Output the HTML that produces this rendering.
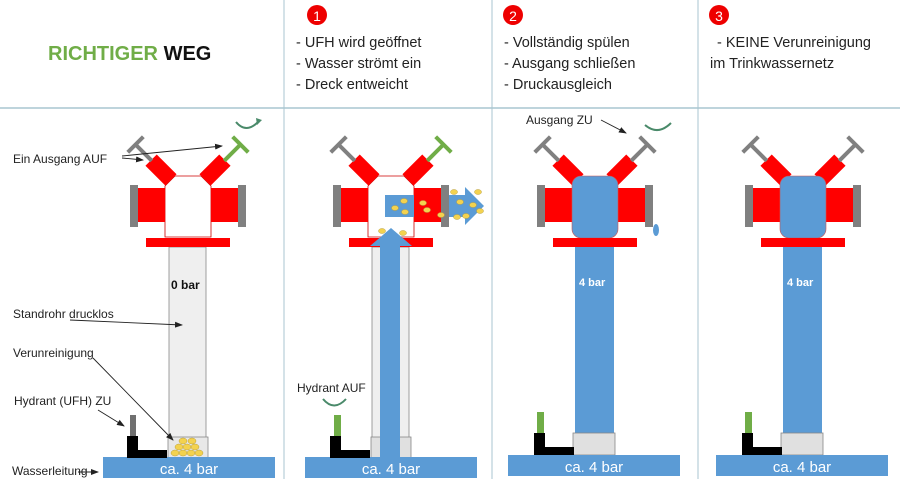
<!DOCTYPE html>
<html><head><meta charset="utf-8"><style>
html,body{margin:0;padding:0;background:#fff}
svg{display:block}
text{font-family:"Liberation Sans",sans-serif}
</style></head><body>
<svg width="900" height="479" viewBox="0 0 900 479" xmlns="http://www.w3.org/2000/svg">
<defs>
<marker id="ar" markerWidth="8" markerHeight="8" refX="7" refY="4" orient="auto" markerUnits="userSpaceOnUse"><path d="M0,1 L8,4 L0,7 z" fill="#222"/></marker>
<g id="sides">
  <rect x="130" y="185" width="8" height="42" fill="#808080"/>
  <rect x="138" y="188" width="27" height="34" fill="#f00"/>
  <rect x="211" y="188" width="27" height="34" fill="#f00"/>
  <rect x="238" y="185" width="8" height="42" fill="#808080"/>
  <rect x="146" y="238" width="84" height="9" fill="#f00"/>
</g>
<g id="outL"><rect x="-8" y="-14" width="16" height="28" fill="#f00"/><rect x="-2" y="-35" width="4" height="22" fill="#808080"/><rect x="-11" y="-38" width="22" height="4" fill="#808080"/></g>
<g id="outRg"><rect x="-8" y="-14" width="16" height="28" fill="#f00"/><rect x="-2" y="-35" width="4" height="22" fill="#70ad47"/><rect x="-11" y="-38" width="22" height="4" fill="#70ad47"/></g>
</defs>

<!-- grid lines -->
<line x1="0" y1="108" x2="900" y2="108" stroke="#a9c6d0" stroke-width="1.5"/>
<line x1="284" y1="0" x2="284" y2="479" stroke="#a9c6d0" stroke-width="1"/>
<line x1="492" y1="0" x2="492" y2="479" stroke="#a9c6d0" stroke-width="1"/>
<line x1="698" y1="0" x2="698" y2="479" stroke="#a9c6d0" stroke-width="1"/>

<!-- headers -->
<text x="48" y="60" font-size="20" font-weight="bold" fill="#70ad47">RICHTIGER <tspan fill="#111">WEG</tspan></text>
<circle cx="317" cy="15" r="10" fill="#e00"/><text x="317" y="21" font-size="14" fill="#fff" text-anchor="middle">1</text>
<circle cx="513" cy="15" r="10" fill="#e00"/><text x="513" y="21" font-size="14" fill="#fff" text-anchor="middle">2</text>
<circle cx="719" cy="15" r="10" fill="#e00"/><text x="719" y="21" font-size="14" fill="#fff" text-anchor="middle">3</text>
<g font-size="14.5" fill="#222">
<text x="296" y="47">- UFH wird geöffnet</text>
<text x="296" y="68">- Wasser strömt ein</text>
<text x="296" y="89">- Dreck entweicht</text>
<text x="504" y="47">- Vollständig spülen</text>
<text x="504" y="68">- Ausgang schließen</text>
<text x="504" y="89">- Druckausgleich</text>
<text x="717" y="47">- KEINE Verunreinigung</text>
<text x="710" y="68">im Trinkwassernetz</text>
</g>

<!-- ===== Panel 1 ===== -->
<rect x="169" y="247" width="37" height="192" fill="#efefef" stroke="#888" stroke-width="0.8"/>
<rect x="168" y="437" width="40" height="21" fill="#e8e8e8" stroke="#888" stroke-width="0.8"/>
<g fill="#f3d24f" stroke="#b8a040" stroke-width="0.5">
<ellipse cx="175" cy="453" rx="4" ry="3"/><ellipse cx="183" cy="453" rx="4" ry="3"/><ellipse cx="191" cy="453" rx="4" ry="3"/><ellipse cx="199" cy="453" rx="4" ry="3"/>
<ellipse cx="179" cy="447" rx="4" ry="3"/><ellipse cx="187" cy="447" rx="4" ry="3"/><ellipse cx="195" cy="447" rx="4" ry="3"/>
<ellipse cx="183" cy="441" rx="4" ry="3"/><ellipse cx="192" cy="441" rx="4" ry="3"/>
</g>
<rect x="103" y="457" width="172" height="21" fill="#5b9bd5"/>
<text x="189" y="474" font-size="15" fill="#fff" text-anchor="middle">ca. 4 bar</text>
<rect x="130" y="415" width="6" height="22" fill="#707070"/>
<rect x="127" y="436" width="11" height="22" fill="#000"/>
<rect x="127" y="450" width="40" height="8" fill="#000"/>
<polygon points="165,186 175,176 201,176 211,186 211,237 165,237" fill="#fff" stroke="#c00" stroke-width="0.8"/>
<use href="#sides"/>
<use href="#outL" transform="translate(161,170) rotate(-45)"/>
<use href="#outRg" transform="translate(215,170) rotate(45)"/>
<path d="M236,122 Q246,134 258,122" fill="none" stroke="#4a8a6a" stroke-width="2"/>
<path d="M256,118 L262,120 L257,125z" fill="#4a8a6a"/>
<text x="171" y="289" font-size="12" font-weight="bold" fill="#111">0 bar</text>
<g font-size="12" fill="#222">
<text x="13" y="163">Ein Ausgang AUF</text>
<text x="13" y="318">Standrohr drucklos</text>
<text x="13" y="357">Verunreinigung</text>
<text x="14" y="405">Hydrant (UFH) ZU</text>
<text x="12" y="475">Wasserleitung</text>
</g>
<g stroke="#222" stroke-width="0.9" fill="none" marker-end="url(#ar)">
<line x1="122" y1="158" x2="143" y2="160"/>
<line x1="122" y1="156" x2="222" y2="146"/>
<line x1="70" y1="320" x2="182" y2="325"/>
<line x1="93" y1="358" x2="173" y2="440"/>
<line x1="98" y1="410" x2="124" y2="426"/>
<line x1="78" y1="472" x2="98" y2="472"/>
</g>

<!-- ===== Panel 2 ===== -->
<g transform="translate(203,0)">
<rect x="169" y="247" width="37" height="192" fill="#efefef" stroke="#888" stroke-width="0.8"/>
<rect x="168" y="437" width="40" height="21" fill="#e0e0e0" stroke="#888" stroke-width="0.8"/>
<rect x="102" y="457" width="172" height="21" fill="#5b9bd5"/>
<text x="188" y="474" font-size="15" fill="#fff" text-anchor="middle">ca. 4 bar</text>
<rect x="131" y="415" width="7" height="22" fill="#70ad47"/>
<rect x="127" y="436" width="11" height="22" fill="#000"/>
<rect x="127" y="450" width="40" height="8" fill="#000"/>
<polygon points="165,186 175,176 201,176 211,186 211,237 165,237" fill="#fff" stroke="#c00" stroke-width="0.8"/>
<use href="#sides"/>
<use href="#outL" transform="translate(161,170) rotate(-45)"/>
<use href="#outRg" transform="translate(215,170) rotate(45)"/>
</g>
<rect x="385" y="195" width="60" height="22" fill="#5b9bd5"/>
<rect x="414" y="188" width="27" height="34" fill="#f00"/>
<rect x="441" y="185" width="8" height="42" fill="#808080"/>
<polygon points="449,195 465,195 465,187 484,206 465,225 465,217 449,217" fill="#5b9bd5"/>
<polygon points="380,458 380,246 370,246 391,228 412,246 400,246 400,458" fill="#5b9bd5"/>
<g fill="#f3d24f" stroke="#b8a040" stroke-width="0.5">
<ellipse cx="395" cy="208" rx="3.5" ry="2.5"/><ellipse cx="404" cy="201" rx="3.5" ry="2.5"/><ellipse cx="405" cy="212" rx="3.5" ry="2.5"/>
<ellipse cx="423" cy="203" rx="3.5" ry="2.5"/><ellipse cx="427" cy="210" rx="3.5" ry="2.5"/><ellipse cx="441" cy="215" rx="3.5" ry="2.5"/>
<ellipse cx="454" cy="192" rx="3.5" ry="2.5"/><ellipse cx="460" cy="202" rx="3.5" ry="2.5"/><ellipse cx="478" cy="192" rx="3.5" ry="2.5"/>
<ellipse cx="473" cy="205" rx="3.5" ry="2.5"/><ellipse cx="480" cy="211" rx="3.5" ry="2.5"/><ellipse cx="466" cy="216" rx="3.5" ry="2.5"/>
<ellipse cx="457" cy="217" rx="3.5" ry="2.5"/><ellipse cx="382" cy="231" rx="3.5" ry="2.5"/><ellipse cx="403" cy="233" rx="3.5" ry="2.5"/>
</g>
<text x="297" y="392" font-size="12" fill="#222">Hydrant AUF</text>
<path d="M323,399 Q334,412 346,399" fill="none" stroke="#4a8a6a" stroke-width="2"/>

<!-- ===== Panel 3 ===== -->
<g transform="translate(407,0)">
<use href="#sides"/>
<use href="#outL" transform="translate(161,170) rotate(-45)"/>
<use href="#outL" transform="translate(215,170) rotate(45)"/>
<rect x="165" y="176" width="46" height="62" rx="9" fill="#5b9bd5" stroke="#c55" stroke-width="0.6"/>
<rect x="168" y="247" width="39" height="188" fill="#5b9bd5"/>
<rect x="166" y="433" width="42" height="22" fill="#e0e0e0" stroke="#888" stroke-width="0.8"/>
<rect x="101" y="455" width="172" height="21" fill="#5b9bd5"/>
<text x="187" y="472" font-size="15" fill="#fff" text-anchor="middle">ca. 4 bar</text>
<rect x="130" y="412" width="7" height="22" fill="#70ad47"/>
<rect x="127" y="433" width="11" height="22" fill="#000"/>
<rect x="127" y="447" width="40" height="8" fill="#000"/>
<text x="172" y="286" font-size="11" font-weight="bold" fill="#fff">4 bar</text>
</g>
<rect x="553" y="238" width="84" height="9" fill="#f00"/>
<ellipse cx="656" cy="230" rx="3" ry="6" fill="#5b9bd5"/>
<text x="526" y="124" font-size="12" fill="#222">Ausgang ZU</text>
<line x1="601" y1="120" x2="626" y2="133" stroke="#222" stroke-width="0.9" marker-end="url(#ar)"/>
<path d="M645,125 Q658,136 671,123" fill="none" stroke="#4a8a6a" stroke-width="2"/>

<!-- ===== Panel 4 ===== -->
<g transform="translate(615,0)">
<use href="#sides"/>
<use href="#outL" transform="translate(161,170) rotate(-45)"/>
<use href="#outL" transform="translate(215,170) rotate(45)"/>
<rect x="165" y="176" width="46" height="62" rx="9" fill="#5b9bd5" stroke="#c55" stroke-width="0.6"/>
<rect x="146" y="238" width="84" height="9" fill="#f00"/>
<rect x="168" y="247" width="39" height="188" fill="#5b9bd5"/>
<rect x="166" y="433" width="42" height="22" fill="#e0e0e0" stroke="#888" stroke-width="0.8"/>
<rect x="101" y="455" width="172" height="21" fill="#5b9bd5"/>
<text x="187" y="472" font-size="15" fill="#fff" text-anchor="middle">ca. 4 bar</text>
<rect x="130" y="412" width="7" height="22" fill="#70ad47"/>
<rect x="127" y="433" width="11" height="22" fill="#000"/>
<rect x="127" y="447" width="40" height="8" fill="#000"/>
<text x="172" y="286" font-size="11" font-weight="bold" fill="#fff">4 bar</text>
</g>
</svg>
</body></html>
